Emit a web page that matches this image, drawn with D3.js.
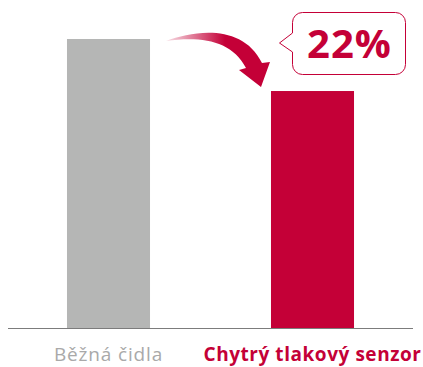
<!DOCTYPE html>
<html>
<head>
<meta charset="utf-8">
<script src="https://cdn.jsdelivr.net/npm/d3@7"></script>
<style>
  html, body { margin: 0; padding: 0; background: #fff; }
  svg { display: block; }
</style>
</head>
<body>
<svg id="chart" width="423" height="367"></svg>
<script>
// Sensor comparison
const categories = ["Běžná čidla", "Chytrý tlakový senzor"];
const values = [100, 82];
const savingLabel = "22%";

const crimson = "#c40037";
const barColors = ["#b5b6b5", crimson];
const labelColors = ["#a9a9a9", crimson];
const labelWeights = ["400", "700"];
const labelSpacing = [0.85, 0.55];

const svg = d3.select("#chart");
const baseY = 328;

const x = d3.scaleBand()
  .domain(categories)
  .range([6.5, 414.5])
  .paddingInner(0.593)
  .paddingOuter(0.2965);

const y = d3.scaleLinear().domain([0, 100]).range([baseY, 39]);

// bars
svg.selectAll("rect.bar")
  .data(categories)
  .join("rect")
  .attr("class", "bar")
  .attr("x", d => x(d))
  .attr("width", x.bandwidth())
  .attr("y", (d, i) => y(values[i]))
  .attr("height", (d, i) => baseY - y(values[i]))
  .attr("fill", (d, i) => barColors[i]);

// baseline
svg.append("line")
  .attr("x1", 8).attr("x2", 413)
  .attr("y1", baseY + 0.5).attr("y2", baseY + 0.5)
  .attr("stroke", "#7c7c7c").attr("stroke-width", 1.2);

// category labels
svg.selectAll("text.cat")
  .data(categories)
  .join("text")
  .attr("class", "cat")
  .attr("x", d => x(d) + x.bandwidth() / 2)
  .attr("y", 361)
  .attr("text-anchor", "middle")
  .attr("font-family", "'Open Sans', sans-serif")
  .attr("font-size", 19)
  .attr("letter-spacing", (d, i) => labelSpacing[i])
  .attr("font-weight", (d, i) => labelWeights[i])
  .attr("fill", (d, i) => labelColors[i])
  .text(d => d);

// curved arrow from the first bar towards the second
const defs = svg.append("defs");
const grad = defs.append("linearGradient")
  .attr("id", "arrowGrad")
  .attr("gradientUnits", "userSpaceOnUse")
  .attr("x1", 166).attr("y1", 0).attr("x2", 225).attr("y2", 0);
grad.append("stop").attr("offset", 0).attr("stop-color", crimson).attr("stop-opacity", 0.12);
grad.append("stop").attr("offset", 1).attr("stop-color", crimson).attr("stop-opacity", 1);

const p = d3.path();
p.moveTo(166, 41);
p.bezierCurveTo(195, 30, 243, 24, 262, 63);
p.lineTo(270, 62);
p.lineTo(261, 87);
p.lineTo(239, 70);
p.lineTo(246, 68);
p.bezierCurveTo(232, 40, 200, 36, 166, 41);
p.closePath();
svg.append("path").attr("d", p.toString()).attr("fill", "url(#arrowGrad)");

// callout bubble
const bx = 292.5, by = 12.5, bw = 113, bh = 62, r = 10;
const b = d3.path();
b.moveTo(bx + r, by);
b.lineTo(bx + bw - r, by);
b.arcTo(bx + bw, by, bx + bw, by + r, r);
b.lineTo(bx + bw, by + bh - r);
b.arcTo(bx + bw, by + bh, bx + bw - r, by + bh, r);
b.lineTo(bx + r, by + bh);
b.arcTo(bx, by + bh, bx, by + bh - r, r);
b.lineTo(bx, 52);
b.lineTo(279.5, 43);
b.lineTo(bx, 33);
b.lineTo(bx, by + r);
b.arcTo(bx, by, bx + r, by, r);
b.closePath();
svg.append("path").attr("d", b.toString())
  .attr("fill", "#fff").attr("stroke", crimson).attr("stroke-width", 1);

svg.append("text")
  .attr("x", bx + bw / 2 + 0.5)
  .attr("y", 58)
  .attr("text-anchor", "middle")
  .attr("font-family", "'Open Sans', sans-serif")
  .attr("font-size", 40)
  .attr("font-weight", "700")
  .attr("letter-spacing", 1)
  .attr("fill", crimson)
  .text(savingLabel);
</script>
</body>
</html>
